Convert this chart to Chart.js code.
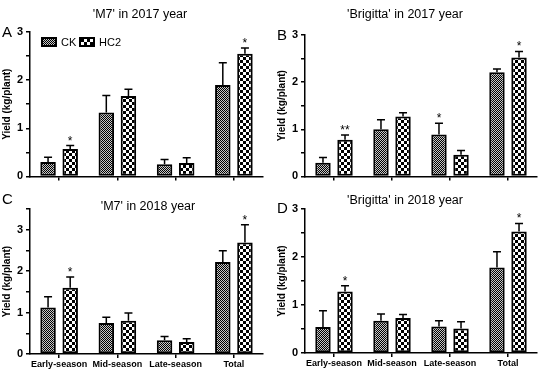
<!DOCTYPE html>
<html>
<head>
<meta charset="utf-8">
<script src="https://cdn.jsdelivr.net/npm/chart.js@4.4.1/dist/chart.umd.min.js"></script>
<style>
  body { margin: 0; background: #fff; }
  #wrap { position: relative; width: 550px; height: 372px; background: #fff; }
  canvas { position: absolute; }
</style>
</head>
<body>
<div id="wrap">
  <canvas id="chartA" width="275" height="186" style="left:0;top:0"></canvas>
  <canvas id="chartB" width="275" height="186" style="left:275px;top:0"></canvas>
  <canvas id="chartC" width="275" height="186" style="left:0;top:186px"></canvas>
  <canvas id="chartD" width="275" height="186" style="left:275px;top:186px"></canvas>
</div>
<script>
const categories = ['Early-season', 'Mid-season', 'Late-season', 'Total'];

// A - 'M7' 2017
const m7_2017_ck = [0.30, 1.33, 0.25, 1.90];
const m7_2017_ck_sd = [0.10, 0.35, 0.10, 0.46];
const m7_2017_hc2 = [0.57, 1.67, 0.28, 2.55];
const m7_2017_hc2_sd = [0.07, 0.14, 0.11, 0.12];
const m7_2017_ck_sig = ['', '', '', ''];
const m7_2017_hc2_sig = ['*', '', '', '*'];

// B - 'Brigitta' 2017
const br_2017_ck = [0.29, 1.00, 0.89, 2.21];
const br_2017_ck_sd = [0.11, 0.20, 0.24, 0.07];
const br_2017_hc2 = [0.78, 1.27, 0.46, 2.52];
const br_2017_hc2_sd = [0.10, 0.08, 0.09, 0.13];
const br_2017_ck_sig = ['', '', '*', ''];
const br_2017_hc2_sig = ['**', '', '', '*'];

// C - 'M7' 2018
const m7_2018_ck = [1.12, 0.75, 0.33, 2.22];
const m7_2018_ck_sd = [0.26, 0.14, 0.09, 0.27];
const m7_2018_hc2 = [1.60, 0.80, 0.29, 2.69];
const m7_2018_hc2_sd = [0.26, 0.19, 0.08, 0.43];
const m7_2018_ck_sig = ['', '', '', ''];
const m7_2018_hc2_sig = ['*', '', '', '*'];

// D - 'Brigitta' 2018
const br_2018_ck = [0.54, 0.67, 0.55, 1.78];
const br_2018_ck_sd = [0.34, 0.14, 0.12, 0.33];
const br_2018_hc2 = [1.28, 0.73, 0.51, 2.53];
const br_2018_hc2_sd = [0.12, 0.07, 0.14, 0.17];
const br_2018_ck_sig = ['', '', '', ''];
const br_2018_hc2_sig = ['*', '', '', '*'];

const yTicks = [0, 1, 2, 3];
const FONT = "'Liberation Sans', Arial, sans-serif";

// checker patterns for the two treatments
function makeChecker(cell, dark, light) {
    let c = document.createElement('canvas');
    c.width = cell * 2;
    c.height = cell * 2;
    let g = c.getContext('2d');
    g.fillStyle = light;
    g.fillRect(0, 0, cell * 2, cell * 2);
    g.fillStyle = dark;
    g.fillRect(0, 0, cell, cell);
    g.fillRect(cell, cell, cell, cell);
    return g.createPattern(c, 'repeat');
}
const patCK = makeChecker(1, '#000', '#c8c8c8');
const patHC2 = makeChecker(3, '#000', '#fff');

const decorPlugin = {
    id: 'decor',
    afterDatasetsDraw(chart) {
        const ctx = chart.ctx;
        const y = chart.scales.y;
        const cfg = chart.options.plugins.decor;
        ctx.save();
        ctx.strokeStyle = '#000';
        ctx.fillStyle = '#000';
        ctx.lineWidth = 1.5;
        chart.data.datasets.forEach(function(ds, i) {
            const meta = chart.getDatasetMeta(i);
            meta.data.forEach(function(bar, j) {
                const top = y.getPixelForValue(ds.data[j] + ds.sd[j]);
                ctx.beginPath();
                ctx.moveTo(bar.x, bar.y);
                ctx.lineTo(bar.x, top);
                ctx.moveTo(bar.x - 4, top);
                ctx.lineTo(bar.x + 4, top);
                ctx.stroke();
                if (ds.sig[j]) {
                    ctx.font = '12px ' + FONT;
                    ctx.textAlign = 'center';
                    ctx.textBaseline = 'alphabetic';
                    ctx.fillText(ds.sig[j], bar.x, top - 1);
                }
            });
        });

        // panel title and letter
        ctx.textBaseline = 'middle';
        ctx.textAlign = 'center';
        ctx.font = '12.5px ' + FONT;
        ctx.fillText(cfg.title, cfg.titleX, cfg.titleY);
        ctx.textAlign = 'left';
        ctx.font = '15px ' + FONT;
        ctx.fillText(cfg.letter, 2, cfg.letterY);

        if (cfg.legend) {
            ctx.font = '11px ' + FONT;
            let x = 42;
            chart.data.datasets.forEach(function(ds) {
                ctx.fillStyle = ds.backgroundColor;
                ctx.fillRect(x, 38, 14, 8);
                ctx.lineWidth = 2;
                ctx.strokeRect(x, 38, 14, 8);
                ctx.fillStyle = '#000';
                ctx.fillText(ds.label, x + 19, 42.5);
                x += 38;
            });
        }
        ctx.restore();
    }
};

function createPanel(id, ck, ckSd, ckSig, hc2, hc2Sd, hc2Sig, cfg) {
    let ctx = document.getElementById(id).getContext('2d');
    return new Chart(ctx, {
        type: 'bar',
        data: {
            labels: categories,
            datasets: [{
                label: 'CK',
                data: ck,
                sd: ckSd,
                sig: ckSig,
                backgroundColor: patCK,
                borderColor: '#000',
                borderWidth: 2,
                borderSkipped: false
            }, {
                label: 'HC2',
                data: hc2,
                sd: hc2Sd,
                sig: hc2Sig,
                backgroundColor: patHC2,
                borderColor: '#000',
                borderWidth: 2,
                borderSkipped: false
            }]
        },
        options: {
            responsive: false,
            animation: false,
            categoryPercentage: 0.76,
            barPercentage: 0.7,
            layout: {
                padding: { top: cfg.top, right: cfg.right, bottom: 0, left: 0 }
            },
            plugins: {
                legend: { display: false },
                tooltip: { enabled: false },
                decor: cfg
            },
            scales: {
                x: {
                    afterFit: function(scale) { scale.height = cfg.xHeight; },
                    border: { color: '#000', width: 1.5 },
                    grid: {
                        offset: false,
                        drawOnChartArea: false,
                        color: '#000',
                        lineWidth: 1.5,
                        tickLength: 4
                    },
                    ticks: {
                        color: '#000',
                        padding: 1,
                        autoSkip: false,
                        maxRotation: 0,
                        font: { family: FONT, size: 9, weight: 'bold' },
                        callback: function(v) {
                            return cfg.xLabels ? categories[v] : '';
                        }
                    }
                },
                y: {
                    min: 0,
                    max: cfg.yMax,
                    afterFit: function(scale) { scale.width = 30; },
                    border: { color: '#000', width: 1.5 },
                    grid: {
                        drawOnChartArea: false,
                        color: '#000',
                        lineWidth: 1.5,
                        tickLength: 4
                    },
                    ticks: {
                        stepSize: 0.5,
                        autoSkip: false,
                        color: '#000',
                        padding: 3,
                        font: { family: FONT, size: 11, weight: 'bold' },
                        callback: function(v) {
                            return yTicks.indexOf(v) >= 0 ? String(v) : '';
                        }
                    },
                    title: {
                        display: true,
                        text: 'Yield (kg/plant)',
                        color: '#000',
                        padding: { top: 1, bottom: 0 },
                        font: { family: FONT, size: 10, weight: 'bold' }
                    }
                }
            }
        },
        plugins: [decorPlugin]
    });
}

createPanel('chartA', m7_2017_ck, m7_2017_ck_sd, m7_2017_ck_sig,
    m7_2017_hc2, m7_2017_hc2_sd, m7_2017_hc2_sig,
    { title: "'M7' in 2017 year", titleX: 140, titleY: 15, letter: 'A', letterY: 33,
      legend: true, top: 32, right: 12, xHeight: 9.5, yMax: 3, xLabels: false });

createPanel('chartB', br_2017_ck, br_2017_ck_sd, br_2017_ck_sig,
    br_2017_hc2, br_2017_hc2_sd, br_2017_hc2_sig,
    { title: "'Brigitta' in 2017 year", titleX: 130, titleY: 15, letter: 'B', letterY: 36,
      legend: false, top: 35, right: 13, xHeight: 6, yMax: 3, xLabels: false });

createPanel('chartC', m7_2018_ck, m7_2018_ck_sd, m7_2018_ck_sig,
    m7_2018_hc2, m7_2018_hc2_sd, m7_2018_hc2_sig,
    { title: "'M7' in 2018 year", titleX: 148, titleY: 21, letter: 'C', letterY: 14,
      legend: false, top: 23, right: 12, xHeight: 18, yMax: 3.5, xLabels: true });

createPanel('chartD', br_2018_ck, br_2018_ck_sd, br_2018_ck_sig,
    br_2018_hc2, br_2018_hc2_sd, br_2018_hc2_sig,
    { title: "'Brigitta' in 2018 year", titleX: 130, titleY: 15, letter: 'D', letterY: 23,
      legend: false, top: 23, right: 13, xHeight: 19, yMax: 3, xLabels: true });
</script>
</body>
</html>
